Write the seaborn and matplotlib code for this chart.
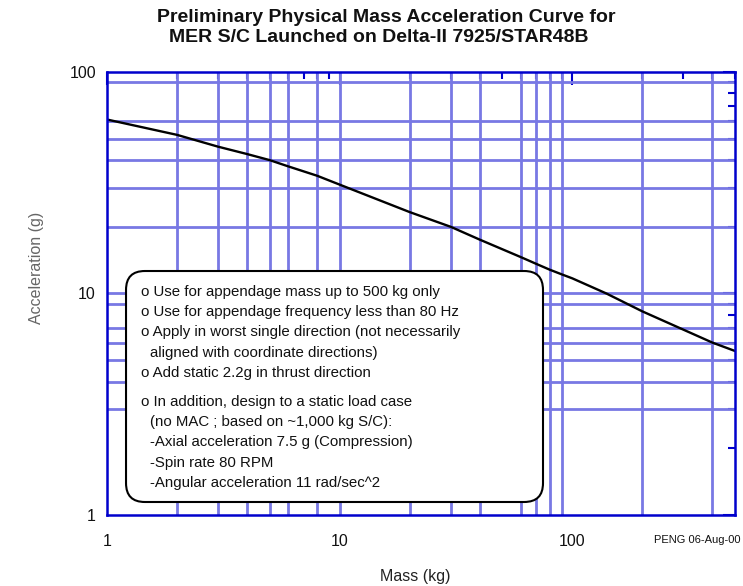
import numpy as np
import matplotlib as mpl
mpl.use('Agg')
import matplotlib.pyplot as plt
from matplotlib import ticker
from matplotlib.patches import FancyBboxPatch
import seaborn as sns
import pandas as pd

# values
mass_kg = [1, 2, 3, 4, 5, 6, 8, 10, 20, 30, 40, 60, 70, 80, 90, 100, 140, 200, 400, 500]
accel_g = [61.0, 52.0, 46.0, 42.6, 40.0, 37.5, 34.0, 31.0, 23.3, 20.0, 17.5, 14.6,
           13.6, 12.8, 12.2, 11.7, 10.0, 8.3, 6.0, 5.5]

# the reference only draws grid lines on some of the minor ticks
x_grid = [2, 3, 4, 5, 6, 8, 10, 20, 30, 40, 60, 70, 80, 90, 200, 400]
y_grid = [3, 4, 5, 6, 7, 9, 10, 20, 30, 40, 50, 60, 90]

major_ticks = [1, 10, 100]

notes = [
    ('o Use for appendage mass up to 500 kg only', 0),
    ('o Use for appendage frequency less than 80 Hz', 0),
    ('o Apply in worst single direction (not necessarily', 0),
    ('aligned with coordinate directions)', 1),
    ('o Add static 2.2g in thrust direction', 0),
    ('o In addition, design to a static load case', 0),
    ('(no MAC ; based on ~1,000 kg S/C):', 1),
    ('-Axial acceleration 7.5 g (Compression)', 1),
    ('-Spin rate 80 RPM', 1),
    ('-Angular acceleration 11 rad/sec^2', 1),
]

title_lines = ['Preliminary Physical Mass Acceleration Curve for',
               'MER S/C Launched on Delta-II 7925/STAR48B']

sns.set_theme(style='white')
plt.rcParams['font.family'] = ['Liberation Sans', 'DejaVu Sans']

blue = '#0000CC'
grid_c = '#7878E4'

fig = plt.figure(figsize=(7.43, 5.86), dpi=100)
ax = fig.add_axes([0.1440, 0.1212, 0.8452, 0.756])
ax.set_xscale('log')
ax.set_yscale('log')

for v in x_grid:
    ax.axvline(v, color=grid_c, lw=2.0, zorder=1)
for v in y_grid:
    ax.axhline(v, color=grid_c, lw=2.0, zorder=1)

df = pd.DataFrame({'mass': mass_kg, 'accel': accel_g})
sns.lineplot(data=df, x='mass', y='accel', color='black', lw=1.7,
             estimator=None, sort=False, ax=ax, zorder=4)

ax.set_xlim(1, 500)
ax.set_ylim(1, 100)
ax.set_xlabel('')
ax.set_ylabel('')

fmt = ticker.FuncFormatter(lambda v, p: f'{v:g}')
for axis in (ax.xaxis, ax.yaxis):
    axis.set_major_locator(ticker.FixedLocator(major_ticks))
    axis.set_minor_locator(ticker.LogLocator(base=10, subs=np.arange(2, 10), numticks=20))
    axis.set_major_formatter(fmt)
    axis.set_minor_formatter(ticker.NullFormatter())

ax.tick_params(which='both', direction='in', top=True, right=True,
               color=blue, width=1.5, labelcolor='#111111')
ax.tick_params(which='major', length=9)
ax.tick_params(which='minor', length=5)
ax.tick_params(axis='x', which='major', pad=14, labelsize=11.5)
ax.tick_params(axis='y', which='major', pad=8, labelsize=11.5)

for s in ax.spines.values():
    s.set_color(blue)
    s.set_linewidth(1.8)
    s.set_zorder(5)

# rounded notes box
box = FancyBboxPatch((0.0303, 0.0293), 0.664, 0.5214,
                     boxstyle='round,pad=0,rounding_size=0.03',
                     mutation_aspect=628 / 443, transform=ax.transAxes,
                     fc='white', ec='black', lw=1.5, zorder=3)
ax.add_patch(box)

for i, (line, indent) in enumerate(notes):
    y_px = 292 + 20.2 * i + (9 if i >= 5 else 0)
    x_ax = 0.0685 if indent else 0.0537
    ax.text(x_ax, (515 - y_px) / 443, line, transform=ax.transAxes,
            ha='left', va='center', fontsize=10.8, color='#111111', zorder=6)

for y_px, x_px, line in zip([17, 38], [386, 379], title_lines):
    fig.text(x_px / 743, 1 - y_px / 586, line, ha='center', va='center',
             fontsize=14, fontweight='bold', color='#111111')
fig.text(415 / 743, 1 - 577 / 586, 'Mass (kg)', ha='center', va='center',
         fontsize=11.5, color='#222222')
fig.text(37 / 743, 1 - 268 / 586, 'Acceleration (g)', ha='center', va='center',
         rotation=90, fontsize=11.5, color='#666666')
fig.text(740 / 743, 1 - 540 / 586, 'PENG 06-Aug-00', ha='right', va='center',
         fontsize=8, color='#111111')

fig.savefig('out.png', dpi=100)
